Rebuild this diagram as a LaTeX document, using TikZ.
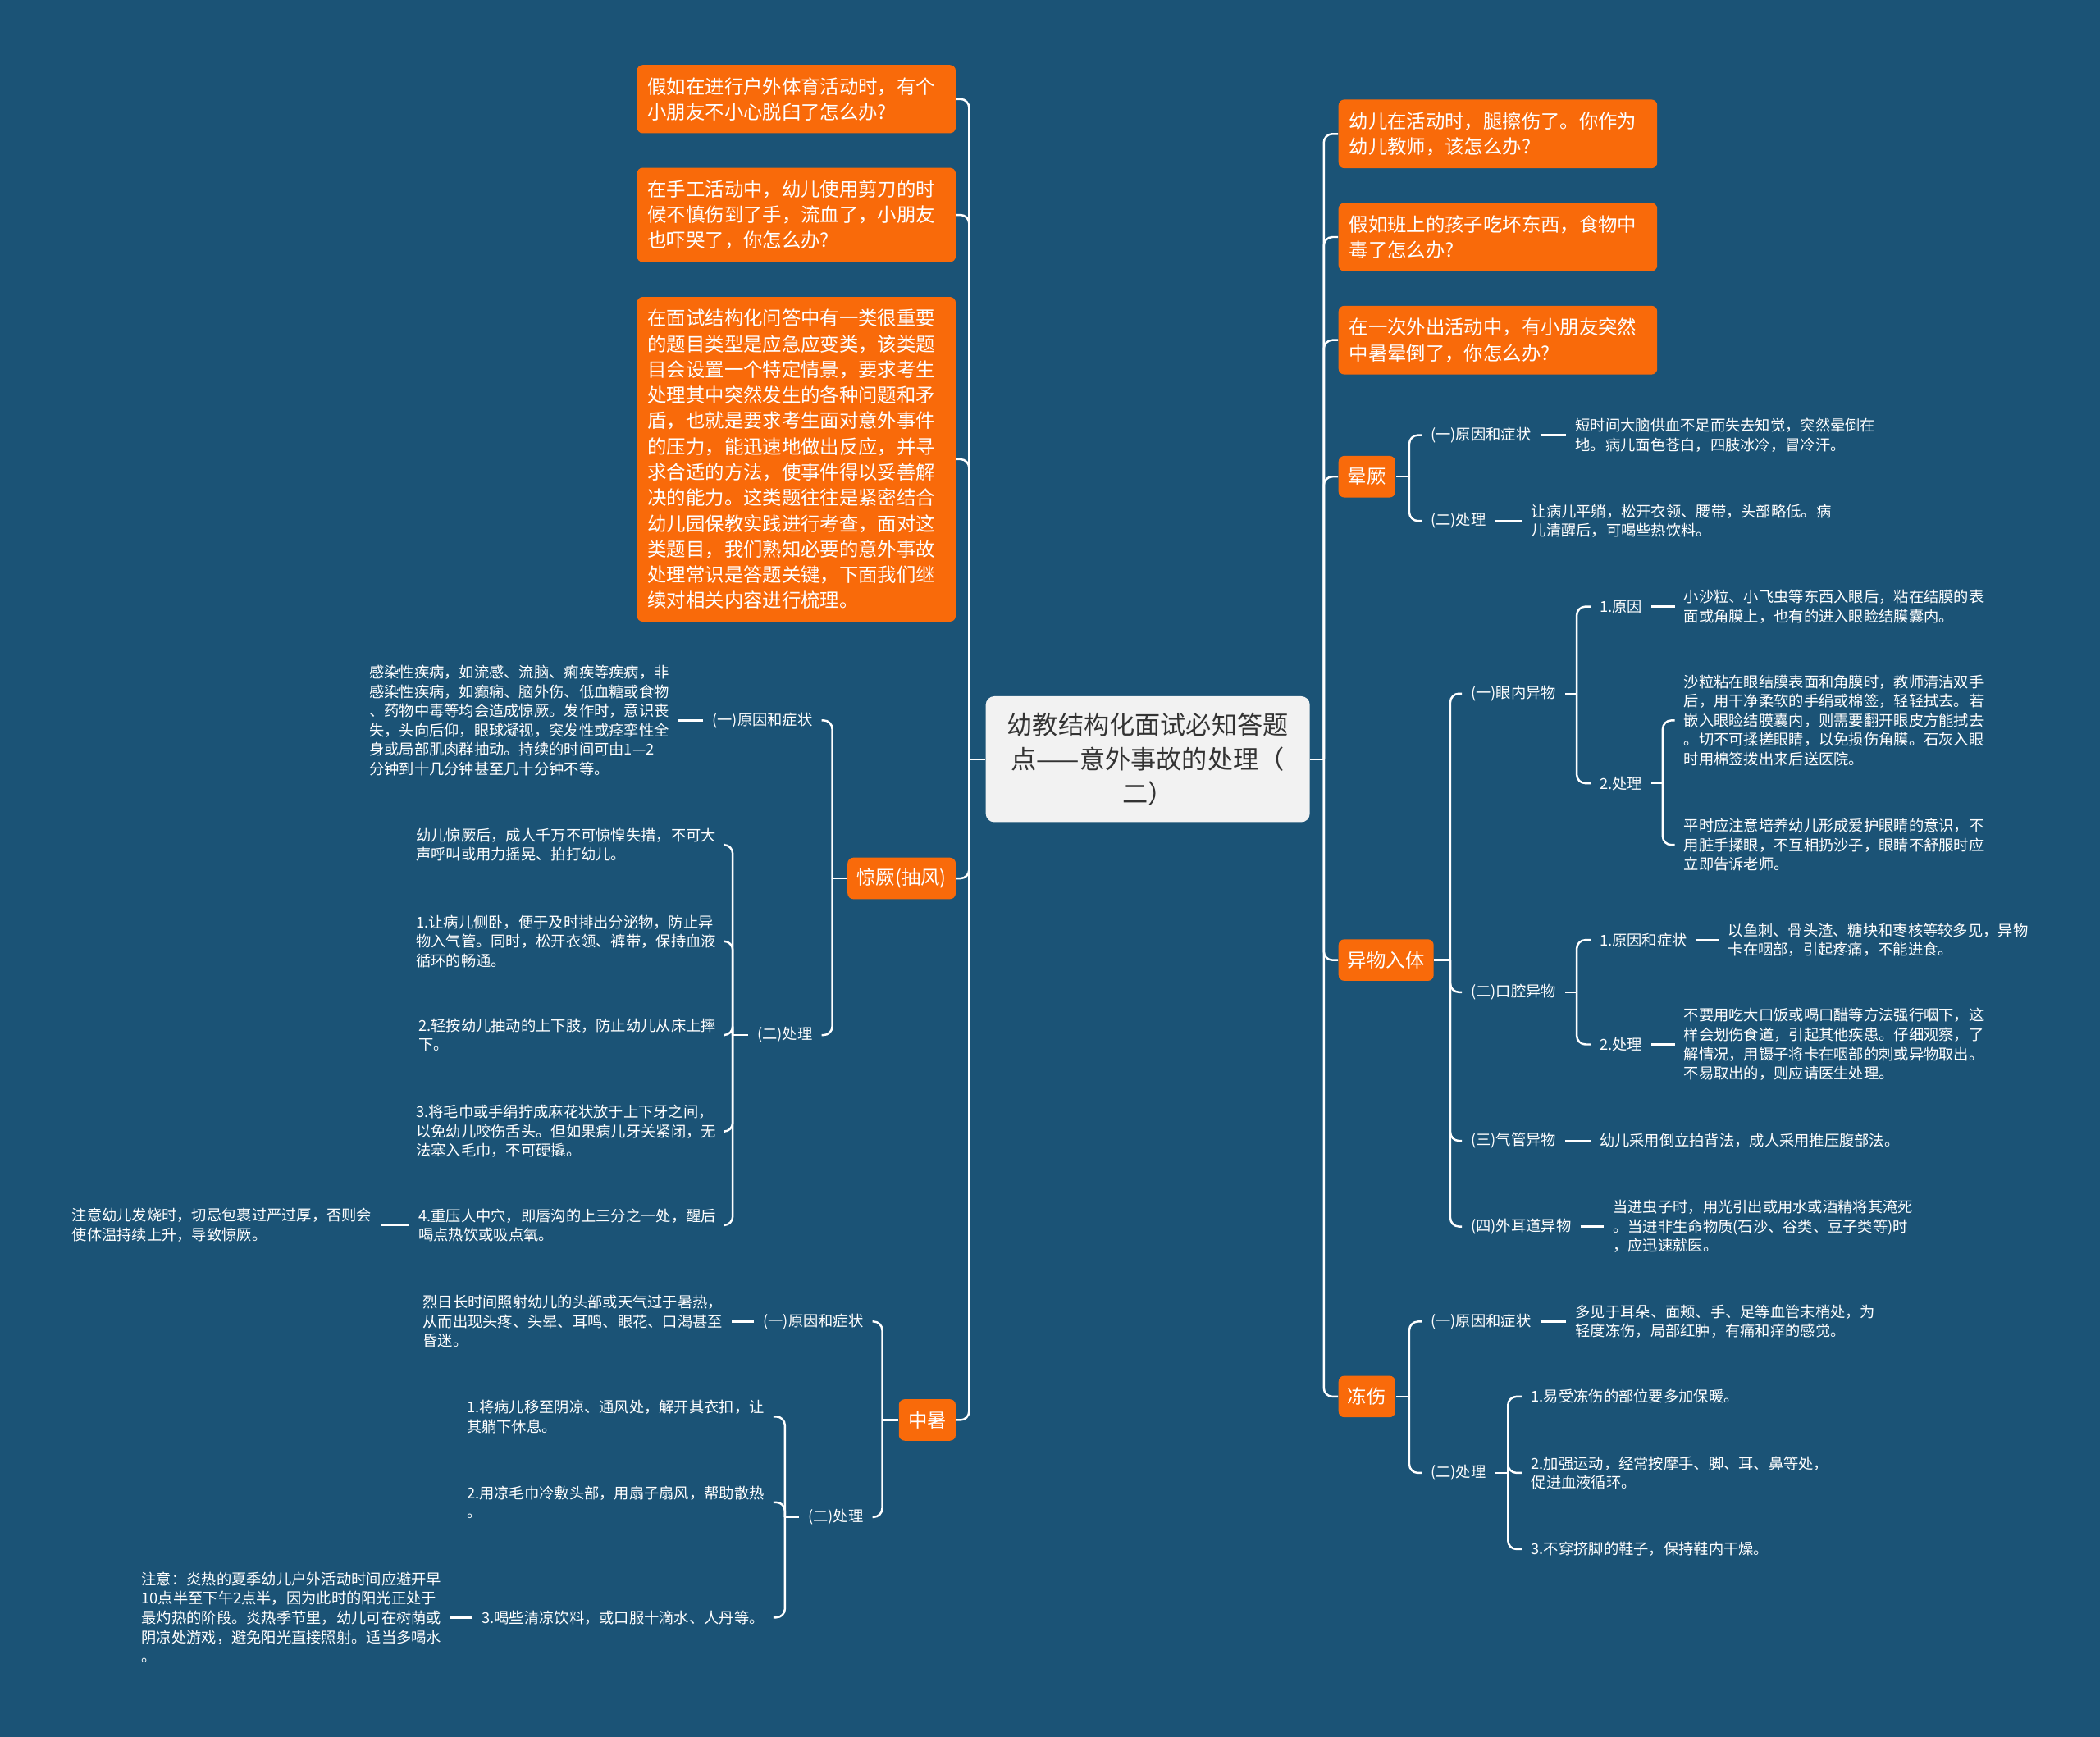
\documentclass[tikz,border=0pt]{standalone}
\usepackage{fontspec}
\setmainfont{Noto Sans CJK SC}
\definecolor{bgblue}{HTML}{1B5376}
\definecolor{topicorange}{HTML}{F96A0A}
\definecolor{rootgray}{HTML}{F2F2F2}
\definecolor{rootink}{HTML}{333333}

\begin{document}
\begin{tikzpicture}[x=0.016327cm,y=-0.016327cm,
  branch/.style={draw=white,line width=.7pt,rounded corners=3pt},
  txt/.style={text=white,font=\fontsize{5.2}{6.7}\selectfont,align=left,inner xsep=3pt,inner ysep=1pt},
  qbox/.style={fill=topicorange,text=white,rounded corners=2pt,font=\fontsize{6.65}{8.9}\selectfont,align=left,text width=3.625cm,inner xsep=3.7pt,inner ysep=4.3pt},
  topic/.style={fill=topicorange,text=white,rounded corners=2pt,font=\fontsize{6.65}{8.9}\selectfont,inner xsep=3.2pt,minimum height=.506cm},
  rootbox/.style={fill=rootgray,text=rootink,rounded corners=3pt,font=\fontsize{8.87}{12}\selectfont,align=center,minimum width=3.951cm,minimum height=1.535cm}]
  \fill[bgblue] (0,0) rectangle (1568,1297);
  \useasboundingbox (0,0) rectangle (1568,1297);
  % centre
  \node[rootbox] (root) at (857,567) {幼教结构化面试必知答题\\点——意外事故的处理（\\二）};
  % left side
  \node[qbox,anchor=east] (q1) at (714,74) {假如在进行户外体育活动时，有个\\小朋友不小心脱臼了怎么办?};
  \node[qbox,anchor=east] (q2) at (714,160.5) {在手工活动中，幼儿使用剪刀的时\\候不慎伤到了手，流血了，小朋友\\也吓哭了，你怎么办?};
  \node[qbox,anchor=east] (q3) at (714,343) {在面试结构化问答中有一类很重要\\的题目类型是应急应变类，该类题\\目会设置一个特定情景，要求考生\\处理其中突然发生的各种问题和矛\\盾，也就是要求考生面对意外事件\\的压力，能迅速地做出反应，并寻\\求合适的方法，使事件得以妥善解\\决的能力。这类题往往是紧密结合\\幼儿园保教实践进行考查，面对这\\类题目，我们熟知必要的意外事故\\处理常识是答题关键，下面我们继\\续对相关内容进行梳理。};
  \node[topic,anchor=east] (jj) at (714,656) {惊厥(抽风)};
  \node[topic,anchor=east] (zs) at (714,1060.5) {中暑};
  \node[txt,anchor=east] (jj1) at (613.5,538) {(一)原因和症状};
  \node[txt,anchor=east] (jj1a) at (506.5,538) {感染性疾病，如流感、流脑、痢疾等疾病，非\\感染性疾病，如癫痫、脑外伤、低血糖或食物\\、药物中毒等均会造成惊厥。发作时，意识丧\\失，头向后仰，眼球凝视，突发性或痉挛性全\\身或局部肌肉群抽动。持续的时间可由1—2\\分钟到十几分钟甚至几十分钟不等。};
  \node[txt,anchor=east] (jj2) at (613.5,773) {(二)处理};
  \node[txt,anchor=east] (jj2a) at (541.5,631) {幼儿惊厥后，成人千万不可惊惶失措，不可大\\声呼叫或用力摇晃、拍打幼儿。};
  \node[txt,anchor=east] (jj2b) at (541.5,703) {1.让病儿侧卧，便于及时排出分泌物，防止异\\物入气管。同时，松开衣领、裤带，保持血液\\循环的畅通。};
  \node[txt,anchor=east] (jj2c) at (541.5,773) {2.轻按幼儿抽动的上下肢，防止幼儿从床上摔\\下。};
  \node[txt,anchor=east] (jj2d) at (541.5,845) {3.将毛巾或手绢拧成麻花状放于上下牙之间，\\以免幼儿咬伤舌头。但如果病儿牙关紧闭，无\\法塞入毛巾，不可硬撬。};
  \node[txt,anchor=east] (jj2e) at (541.5,915) {4.重压人中穴，即唇沟的上三分之一处，醒后\\喝点热饮或吸点氧。};
  \node[txt,anchor=east] (jj2e1) at (284.5,915) {注意幼儿发烧时，切忌包裹过严过厚，否则会\\使体温持续上升，导致惊厥。};
  \node[txt,anchor=east] (zs1) at (651.5,987) {(一)原因和症状};
  \node[txt,anchor=east] (zs1a) at (546.5,987) {烈日长时间照射幼儿的头部或天气过于暑热，\\从而出现头疼、头晕、耳鸣、眼花、口渴甚至\\昏迷。};
  \node[txt,anchor=east] (zs2) at (651.5,1133) {(二)处理};
  \node[txt,anchor=east] (zs2a) at (577.5,1058) {1.将病儿移至阴凉、通风处，解开其衣扣，让\\其躺下休息。};
  \node[txt,anchor=east] (zs2b) at (577.5,1122) {2.用凉毛巾冷敷头部，用扇子扇风，帮助散热\\。};
  \node[txt,anchor=east] (zs2c) at (577.5,1208) {3.喝些清凉饮料，或口服十滴水、人丹等。};
  \node[txt,anchor=east] (zs2c1) at (336.5,1208) {注意：炎热的夏季幼儿户外活动时间应避开早\\10点半至下午2点半，因为此时的阳光正处于\\最灼热的阶段。炎热季节里，幼儿可在树荫或\\阴凉处游戏，避免阳光直接照射。适当多喝水\\。};
  % right side
  \node[qbox,anchor=west] (r1) at (999,100) {幼儿在活动时，腿擦伤了。你作为\\幼儿教师，该怎么办?};
  \node[qbox,anchor=west] (r2) at (999,177) {假如班上的孩子吃坏东西，食物中\\毒了怎么办?};
  \node[qbox,anchor=west] (r3) at (999,254) {在一次外出活动中，有小朋友突然\\中暑晕倒了，你怎么办?};
  \node[topic,anchor=west] (yj) at (999,356) {晕厥};
  \node[topic,anchor=west] (yw) at (999,717) {异物入体};
  \node[topic,anchor=west] (dz) at (999,1043) {冻伤};
  \node[txt,anchor=west] (yj1) at (1061.5,325) {(一)原因和症状};
  \node[txt,anchor=west] (yj1a) at (1169.5,325) {短时间大脑供血不足而失去知觉，突然晕倒在\\地。病儿面色苍白，四肢冰冷，冒冷汗。};
  \node[txt,anchor=west] (yj2) at (1061.5,389) {(二)处理};
  \node[txt,anchor=west] (yj2a) at (1136.5,389) {让病儿平躺，松开衣领、腰带，头部略低。病\\儿清醒后，可喝些热饮料。};
  \node[txt,anchor=west] (yw1) at (1091.5,518) {(一)眼内异物};
  \node[txt,anchor=west] (yw1a) at (1187.5,453) {1.原因};
  \node[txt,anchor=west] (yw1a1) at (1250.5,453) {小沙粒、小飞虫等东西入眼后，粘在结膜的表\\面或角膜上，也有的进入眼睑结膜囊内。};
  \node[txt,anchor=west] (yw1b) at (1187.5,585) {2.处理};
  \node[txt,anchor=west] (yw1b1) at (1250.5,538) {沙粒粘在眼结膜表面和角膜时，教师清洁双手\\后，用干净柔软的手绢或棉签，轻轻拭去。若\\嵌入眼睑结膜囊内，则需要翻开眼皮方能拭去\\。切不可揉搓眼睛，以免损伤角膜。石灰入眼\\时用棉签拨出来后送医院。};
  \node[txt,anchor=west] (yw1b2) at (1250.5,631) {平时应注意培养幼儿形成爱护眼睛的意识，不\\用脏手揉眼，不互相扔沙子，眼睛不舒服时应\\立即告诉老师。};
  \node[txt,anchor=west] (yw2) at (1091.5,741) {(二)口腔异物};
  \node[txt,anchor=west] (yw2a) at (1187.5,702) {1.原因和症状};
  \node[txt,anchor=west] (yw2a1) at (1283.5,702) {以鱼刺、骨头渣、糖块和枣核等较多见，异物\\卡在咽部，引起疼痛，不能进食。};
  \node[txt,anchor=west] (yw2b) at (1187.5,780) {2.处理};
  \node[txt,anchor=west] (yw2b1) at (1250.5,780) {不要用吃大口饭或喝口醋等方法强行咽下，这\\样会划伤食道，引起其他疾患。仔细观察，了\\解情况，用镊子将卡在咽部的刺或异物取出。\\不易取出的，则应请医生处理。};
  \node[txt,anchor=west] (yw3) at (1091.5,852) {(三)气管异物};
  \node[txt,anchor=west] (yw3a) at (1187.5,852) {幼儿采用倒立拍背法，成人采用推压腹部法。};
  \node[txt,anchor=west] (yw4) at (1091.5,916) {(四)外耳道异物};
  \node[txt,anchor=west] (yw4a) at (1197.5,916) {当进虫子时，用光引出或用水或酒精将其淹死\\。当进非生命物质(石沙、谷类、豆子类等)时\\，应迅速就医。};
  \node[txt,anchor=west] (dz1) at (1061.5,987) {(一)原因和症状};
  \node[txt,anchor=west] (dz1a) at (1169.5,987) {多见于耳朵、面颊、手、足等血管末梢处，为\\轻度冻伤，局部红肿，有痛和痒的感觉。};
  \node[txt,anchor=west] (dz2) at (1061.5,1100) {(二)处理};
  \node[txt,anchor=west] (dz2a) at (1136.5,1043) {1.易受冻伤的部位要多加保暖。};
  \node[txt,anchor=west] (dz2b) at (1136.5,1100) {2.加强运动，经常按摩手、脚、耳、鼻等处，\\促进血液循环。};
  \node[txt,anchor=west] (dz2c) at (1136.5,1157) {3.不穿挤脚的鞋子，保持鞋内干燥。};
  % connectors, left
  \draw[branch] (root.west) -- ++(-12,0) coordinate (rootl);
  \foreach \c in {q1,q2,q3,jj,zs} \draw[branch] (rootl) |- (\c.east);
  \draw[branch] (jj.west) -- ++(-11,0) coordinate (jjx);
  \foreach \c in {jj1,jj2} \draw[branch] (jjx) |- (\c.east);
  \draw[branch] (jj1.west) -- (jj1a.east);
  \draw[branch] (jj2.west) -- ++(-11.5,0) coordinate (jj2x);
  \foreach \c in {jj2a,jj2b,jj2c,jj2d,jj2e} \draw[branch] (jj2x) |- (\c.east);
  \draw[branch] (jj2e.west) -- (jj2e1.east);
  \draw[branch] (zs.west) -- ++(-12,0) coordinate (zsx);
  \foreach \c in {zs1,zs2} \draw[branch] (zsx) |- (\c.east);
  \draw[branch] (zs1.west) -- (zs1a.east);
  \draw[branch] (zs2.west) -- ++(-10.5,0) coordinate (zs2x);
  \foreach \c in {zs2a,zs2b,zs2c} \draw[branch] (zs2x) |- (\c.east);
  \draw[branch] (zs2c.west) -- (zs2c1.east);
  % connectors, right
  \draw[branch] (root.east) -- ++(10,0) coordinate (rootr);
  \foreach \c in {r1,r2,r3,yj,yw,dz} \draw[branch] (rootr) |- (\c.west);
  \draw[branch] (yj.east) -- ++(10,0) coordinate (yjx);
  \foreach \c in {yj1,yj2} \draw[branch] (yjx) |- (\c.west);
  \draw[branch] (yj1.east) -- (yj1a.west);
  \draw[branch] (yj2.east) -- (yj2a.west);
  \draw[branch] (yw.east) -- ++(12,0) coordinate (ywx);
  \foreach \c in {yw1,yw2,yw3,yw4} \draw[branch] (ywx) |- (\c.west);
  \draw[branch] (yw1.east) -- ++(8.5,0) coordinate (yw1x);
  \foreach \c in {yw1a,yw1b} \draw[branch] (yw1x) |- (\c.west);
  \draw[branch] (yw1a.east) -- (yw1a1.west);
  \draw[branch] (yw1b.east) -- ++(8.5,0) coordinate (yw1bx);
  \foreach \c in {yw1b1,yw1b2} \draw[branch] (yw1bx) |- (\c.west);
  \draw[branch] (yw2.east) -- ++(8.5,0) coordinate (yw2x);
  \foreach \c in {yw2a,yw2b} \draw[branch] (yw2x) |- (\c.west);
  \draw[branch] (yw2a.east) -- (yw2a1.west);
  \draw[branch] (yw2b.east) -- (yw2b1.west);
  \draw[branch] (yw3.east) -- (yw3a.west);
  \draw[branch] (yw4.east) -- (yw4a.west);
  \draw[branch] (dz.east) -- ++(10,0) coordinate (dzx);
  \foreach \c in {dz1,dz2} \draw[branch] (dzx) |- (\c.west);
  \draw[branch] (dz1.east) -- (dz1a.west);
  \draw[branch] (dz2.east) -- ++(9.5,0) coordinate (dz2x);
  \foreach \c in {dz2a,dz2b,dz2c} \draw[branch] (dz2x) |- (\c.west);
\end{tikzpicture}
\end{document}
